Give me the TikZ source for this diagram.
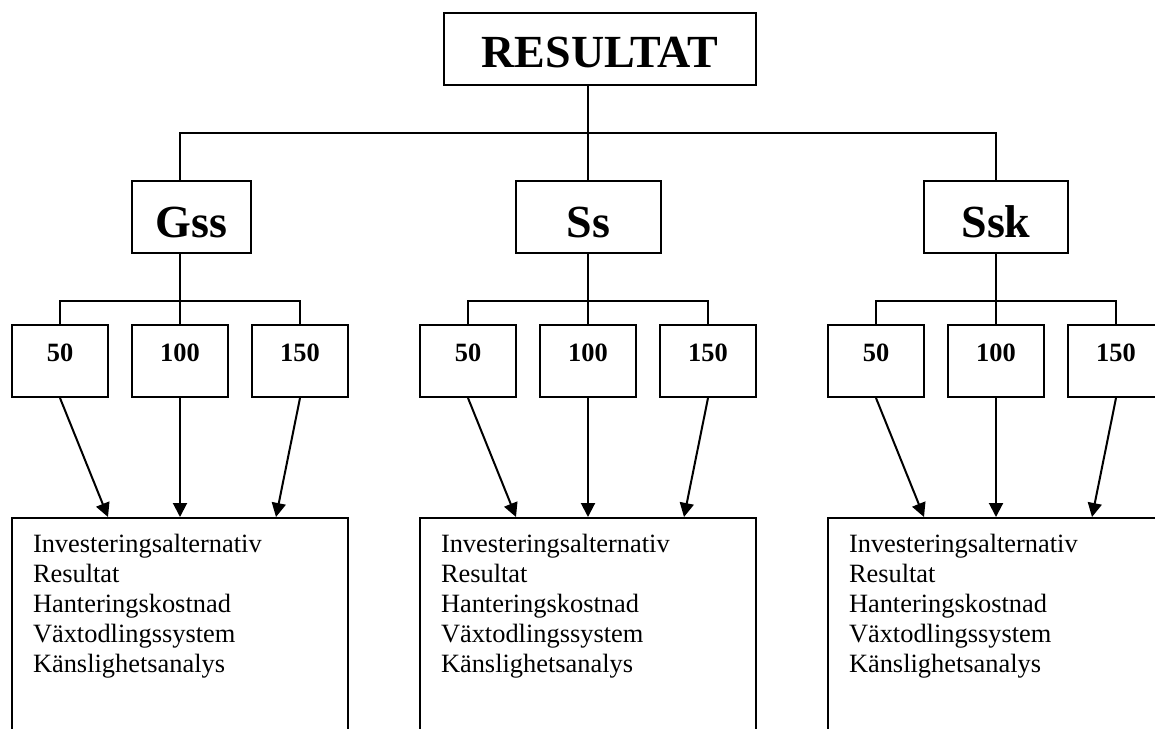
\documentclass[tikz,border=0pt]{standalone}
\usepackage{fontspec}
\setmainfont{Liberation Serif}
\usetikzlibrary{arrows.meta}
\begin{document}
\begin{tikzpicture}[x=0.75pt,y=-0.75pt,line width=1.5pt,
  box/.style={draw,line width=1.5pt,inner sep=0pt},
  titlebox/.style={box,font=\fontsize{34.5}{40}\selectfont\bfseries,text height=40.5pt,text depth=13.5pt,minimum width=234pt},
  mainbox/.style={box,font=\fontsize{34.5}{40}\selectfont\bfseries,text height=42pt,text depth=12pt},
  subbox/.style={box,font=\fontsize{19.8}{23}\selectfont\bfseries,text height=27pt,text depth=27pt,minimum width=72pt},
  bigbox/.style={box,anchor=north,minimum width=252pt,minimum height=212pt},
  itemtext/.style={anchor=base west,inner sep=0pt,font=\fontsize{19.8}{22.5}\selectfont},
  arr/.style={-{Triangle[length=10.5pt,width=10.5pt]},line width=1.5pt}]
\useasboundingbox (0,0) rectangle (1155,728);
\clip (0,0) rectangle (1155,728);
\node[titlebox] (res) at (600,49) {RESULTAT};
\foreach \g/\cx/\name/\mx/\mw in {1/180/Gss/191.5/89.25pt,2/588/Ss/588.5/108.75pt,3/996/Ssk/996/108pt}{
  \node[mainbox,minimum width=\mw] (m\g) at (\mx,217) {\name};
  \coordinate (j\g) at (\cx,301);
  \node[subbox] (a\g) at (\cx-120,361) {50};
  \node[subbox] (b\g) at (\cx,361) {100};
  \node[subbox] (c\g) at (\cx+120,361) {150};
  \draw (m\g.south -| j\g) -- (j\g);
  \draw (a\g.north) |- (j\g) -| (c\g.north);
  \draw (j\g) -- (b\g.north);
  \node[bigbox] (r\g) at (\cx,517) {};
  \coordinate (ta\g) at (\cx-72,517);
  \coordinate (tb\g) at (\cx,517);
  \coordinate (tc\g) at (\cx+96,517);
  \draw[arr] (a\g.south) -- (ta\g);
  \draw[arr] (b\g.south) -- (tb\g);
  \draw[arr] (c\g.south) -- (tc\g);
  \foreach \t [count=\i from 0] in {Investeringsalternativ,Resultat,Hanteringskostnad,Växtodlingssystem,Känslighetsanalys}{
    \node[itemtext] (l\g-\i) at (\cx-148,{552+30*\i}) {\t};
  }
}
\coordinate (h) at (588,133);
\draw (res.south -| j2) -- (m2.north -| j2);
\draw (m1.north -| j1) |- (h) -| (m3.north);
\end{tikzpicture}
\end{document}
